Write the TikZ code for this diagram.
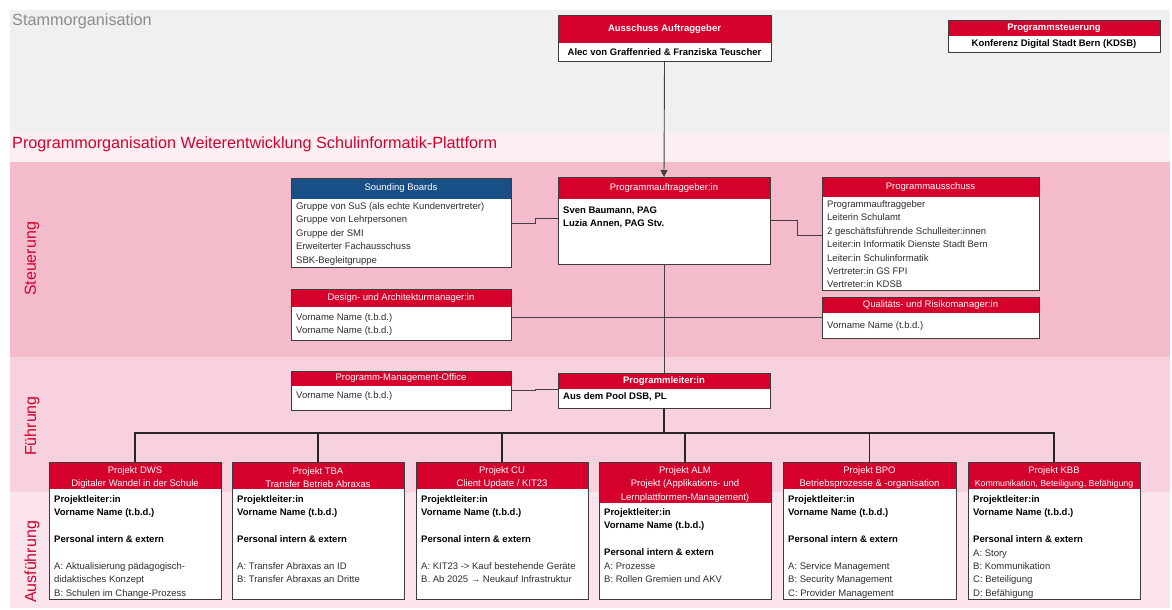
\documentclass[tikz,border=0pt]{standalone}
\usepackage{fontspec}
\setmainfont{Liberation Sans}
\usetikzlibrary{calc,arrows.meta}
\definecolor{bernred}{RGB}{213,0,43}
\definecolor{sbblue}{RGB}{24,79,135}
\definecolor{greyband}{RGB}{240,240,240}
\definecolor{lightpink}{RGB}{252,239,243}
\definecolor{steuerpink}{RGB}{244,187,203}
\definecolor{fuehrpink}{RGB}{247,209,221}
\definecolor{ausfpink}{RGB}{251,228,235}
\definecolor{bodytext}{RGB}{45,45,45}
\definecolor{framecol}{RGB}{60,60,60}
\definecolor{stammgrey}{RGB}{140,140,140}
\newcommand\orgbox[9]{%
  \node[boxframe, minimum width=#4pt, minimum height=#5pt, anchor=north west] (#1) at (#2,#3) {};
  \fill[#7] (#2,#3) rectangle ++(#4,#6);
  \draw[frameline] (#1.north west) rectangle (#1.south east);
  \node[hdr, #9] (#1-h) at ({#2+#4/2},{#3+#6/2}) {#8};
}
\begin{document}
\begin{tikzpicture}[x=1pt,y=-1pt,
  boxframe/.style={fill=white, inner sep=0pt, outer sep=0pt},
  frameline/.style={draw=framecol, line width=0.9pt},
  hdr/.style={text=white, align=center, inner sep=0pt, font=\fontsize{9.5}{13.8}\selectfont},
  twoline/.style={yshift=-2pt},
  bodytxt/.style={text=bodytext, align=left, inner sep=0pt, anchor=north west, font=\fontsize{9.5}{13.4}\selectfont},
  conn/.style={draw=black!75, line width=0.9pt},
  busline/.style={draw=black!85, line width=1.2pt},
  bandlabel/.style={text=bernred, rotate=90, font=\fontsize{16}{18}\selectfont},
  titletxt/.style={anchor=west, inner sep=0pt, font=\fontsize{16.2}{18}\selectfont}
]
\useasboundingbox (0,0) rectangle (1172,610);
\fill[white] (0,0) rectangle (1172,610);
% bands
\fill[greyband] (10,10) rectangle (1170,133);
\fill[lightpink] (10,133) rectangle (1170,162);
\fill[steuerpink] (10,162) rectangle (1170,357);
\fill[fuehrpink] (10,357) rectangle (1170,492);
\fill[ausfpink] (10,492) rectangle (1170,608);
\node[titletxt, text=stammgrey] (stamm) at (12,21.5) {Stammorganisation};
\node[titletxt, text=bernred] (progorg) at (12,144.5) {Programmorganisation Weiterentwicklung Schulinformatik-Plattform};
\node[bandlabel] (lsteu) at (32,259) {Steuerung};
\node[bandlabel] (lfuehr) at (32,426) {Führung};
\node[bandlabel] (lausf) at (32,562) {Ausführung};

% top boxes
\orgbox{aus}{558}{15}{213}{46}{28}{bernred}{\textbf{Ausschuss Auftraggeber}}{}
\node[text=black, inner sep=0pt, font=\fontsize{9.5}{13}\selectfont\bfseries] (aus-b) at (664.5,52) {Alec von Graffenried \& Franziska Teuscher};
\orgbox{pst}{948}{20}{212}{32}{16}{bernred}{\textbf{Programmsteuerung}}{}
\node[text=black, inner sep=0pt, font=\fontsize{9.5}{13}\selectfont\bfseries] (pst-b) at (1054,44) {Konferenz Digital Stadt Bern (KDSB)};

% Steuerung
\orgbox{sb}{291}{178}{220}{89}{21}{sbblue}{Sounding Boards}{}
\node[bodytxt] (sb-b) at (296,202.5) {Gruppe von SuS (als echte Kundenvertreter)\\Gruppe von Lehrpersonen\\Gruppe der SMI\\Erweiterter Fachausschuss\\SBK-Begleitgruppe};
\orgbox{pag}{558}{177}{212}{87}{22}{bernred}{Programmauftraggeber:in}{}
\node[bodytxt, text=black] (pag-b) at (563,206.5) {\textbf{Sven Baumann, PAG}\\\textbf{Luzia Annen, PAG Stv.}};
\orgbox{pa}{822}{177}{217}{113}{20}{bernred}{Programmausschuss}{}
\node[bodytxt] (pa-b) at (827,200.5) {Programmauftraggeber\\Leiterin Schulamt\\2 geschäftsführende Schulleiter:innen\\Leiter:in Informatik Dienste Stadt Bern\\Leiter:in Schulinformatik\\Vertreter:in GS FPI\\Vertreter:in KDSB};
\orgbox{dam}{291}{289}{220}{51}{18}{bernred}{Design- und Architekturmanager:in}{}
\node[bodytxt] (dam-b) at (296,313.5) {Vorname Name (t.b.d.)\\Vorname Name (t.b.d.)};
\orgbox{qrm}{822}{297}{217}{41}{16}{bernred}{Qualitäts- und Risikomanager:in}{}
\node[bodytxt] (qrm-b) at (827,321.5) {Vorname Name (t.b.d.)};

% Fuehrung
\orgbox{pmo}{291}{371}{220}{39}{15}{bernred}{Programm-Management-Office}{}
\node[bodytxt] (pmo-b) at (296,391.5) {Vorname Name (t.b.d.)};
\orgbox{pl}{558}{373}{212}{35}{16}{bernred}{\textbf{Programmleiter:in}}{}
\node[bodytxt, text=black] (pl-b) at (563,392.5) {\textbf{Aus dem Pool DSB, PL}};

% Projects
\orgbox{p1}{49}{462}{172}{137}{27}{bernred}{Projekt DWS\\Digitaler Wandel in der Schule}{twoline}
\node[bodytxt] (p1-b) at (54,495.5) {\textbf{\color{black}Projektleiter:in}\\\textbf{\color{black}Vorname Name (t.b.d.)}\\\mbox{}\\\textbf{\color{black}Personal intern \& extern}\\\mbox{}\\A: Aktualisierung pädagogisch-\\didaktisches Konzept\\B: Schulen im Change-Prozess};
\orgbox{p2}{232}{462}{172}{137}{27}{bernred}{Projekt TBA\\Transfer Betrieb Abraxas}{twoline}
\node[bodytxt] (p2-b) at (237,495.5) {\textbf{\color{black}Projektleiter:in}\\\textbf{\color{black}Vorname Name (t.b.d.)}\\\mbox{}\\\textbf{\color{black}Personal intern \& extern}\\\mbox{}\\A: Transfer Abraxas an ID\\B: Transfer Abraxas an Dritte};
\orgbox{p3}{416}{462}{172}{137}{27}{bernred}{Projekt CU\\Client Update / KIT23}{twoline}
\node[bodytxt] (p3-b) at (421,495.5) {\textbf{\color{black}Projektleiter:in}\\\textbf{\color{black}Vorname Name (t.b.d.)}\\\mbox{}\\\textbf{\color{black}Personal intern \& extern}\\\mbox{}\\A: KIT23 -> Kauf bestehende Geräte\\B. Ab 2025 → Neukauf Infrastruktur};
\orgbox{p4}{599}{462}{172}{137}{41}{bernred}{Projekt ALM\\Projekt (Applikations- und\\Lernplattformen-Management)}{twoline}
\node[bodytxt] (p4-b) at (604,508.5) {\textbf{\color{black}Projektleiter:in}\\\textbf{\color{black}Vorname Name (t.b.d.)}\\\mbox{}\\\textbf{\color{black}Personal intern \& extern}\\A: Prozesse\\B: Rollen Gremien und AKV};
\orgbox{p5}{783}{462}{173}{137}{27}{bernred}{Projekt BPO\\Betriebsprozesse \& -organisation}{twoline}
\node[bodytxt] (p5-b) at (788,495.5) {\textbf{\color{black}Projektleiter:in}\\\textbf{\color{black}Vorname Name (t.b.d.)}\\\mbox{}\\\textbf{\color{black}Personal intern \& extern}\\\mbox{}\\A: Service Management\\B: Security Management\\C: Provider Management};
\orgbox{p6}{968}{462}{172}{137}{27}{bernred}{Projekt KBB\\{\fontsize{8.8}{13.8}\selectfont Kommunikation, Beteiligung, Befähigung}}{twoline}
\node[bodytxt] (p6-b) at (973,495.5) {\textbf{\color{black}Projektleiter:in}\\\textbf{\color{black}Vorname Name (t.b.d.)}\\\mbox{}\\\textbf{\color{black}Personal intern \& extern}\\A: Story\\B: Kommunikation\\C: Beteiligung\\D: Befähigung};

% connectors
\draw[conn, -{Triangle[length=7pt,width=7pt]}] (aus.south) -- (pag.north);
\draw[conn] (pag.south) -- (pl.north);
\draw[conn] ([yshift=-0.5pt]sb.east) -- ++(24,0) |- ([yshift=2.5pt]pag.west);
\draw[conn] (pag.east) -- ++(27,0) |- ([yshift=-1.5pt]pa.west);
\draw[conn] (dam.east |- qrm.west) -- (qrm.west);
\draw[conn] (pmo.east) -- ++(24,0) |- ([yshift=1pt]pl.west);
\path (p1.north) ++(0,-29) coordinate (bus);
\draw[busline] (pl.south) -- (pl.south |- bus);
\draw[busline] (p1.north) |- (p6.north |- bus) -- (p6.north);
\foreach \p in {p2,p3,p4,p5}{\draw[busline] (\p.north) -- (\p.north |- bus);}
\end{tikzpicture}
\end{document}
